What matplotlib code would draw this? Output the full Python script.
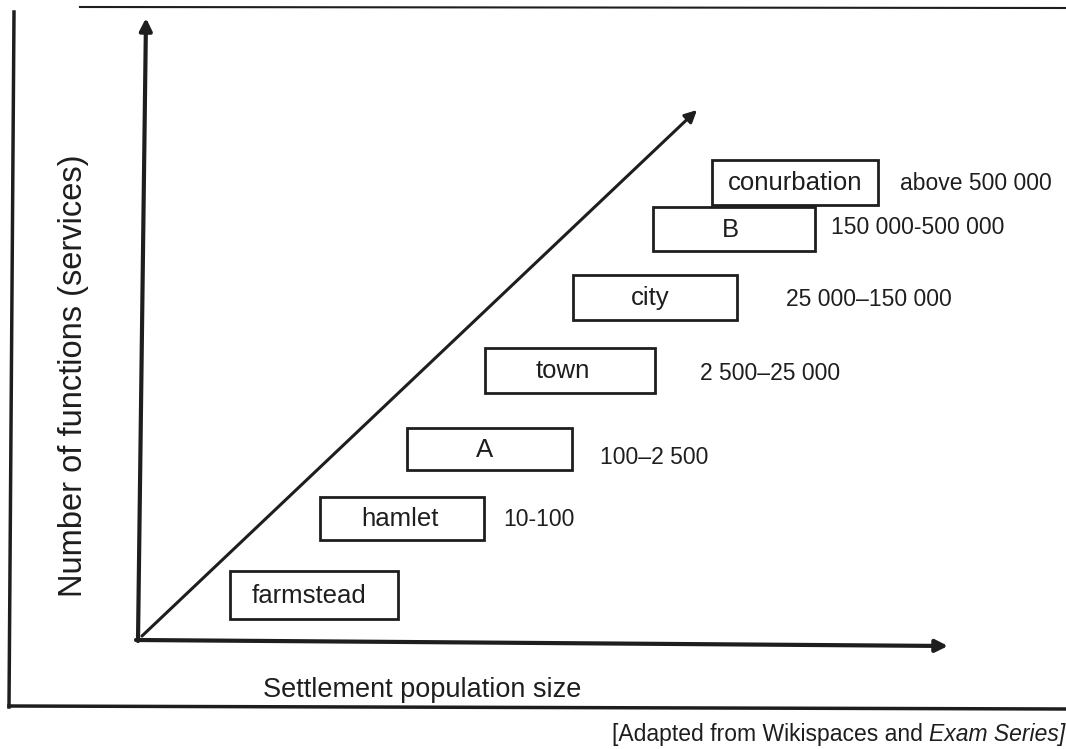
import matplotlib
matplotlib.use('Agg')
import matplotlib.pyplot as plt
from matplotlib.patches import Rectangle

plt.rcParams['font.family'] = ['Liberation Sans', 'DejaVu Sans']

# settlement hierarchy, smallest to largest
categories = ['farmstead', 'hamlet', 'A', 'town', 'city', 'B', 'conurbation']
pop_ranges = ['', '10-100', '100\u20132 500', '2 500\u201325 000',
              '25 000\u2013150 000', '150 000-500 000', 'above 500 000']

# box extents in the diagram (pixel-like units, y grows downwards)
box_x0 = [230, 320, 407, 485, 573, 653, 712]
box_x1 = [398, 484, 572, 655, 737, 815, 878]
box_y0 = [571, 497, 428, 348, 275, 207, 160]
box_y1 = [619, 540, 470, 393, 320, 251, 205]
label_x = [309, 400, 485, 563, 650, 730, 795]
range_x = [0, 503, 600, 700, 786, 831, 900]
range_y = [0, 520, 458, 374, 300, 228, 184]

ink = '#1e1e1e'

fig = plt.figure(figsize=(10.66, 7.49), dpi=100)
ax = fig.add_axes([0, 0, 1, 1])
ax.set_xlim(0, 1066)
ax.set_ylim(749, 0)
ax.axis('off')

# outer frame of the scanned figure
ax.plot([14, 9], [12, 707], color=ink, lw=2.5)
ax.plot([9, 1066], [706, 709], color=ink, lw=2.5)
ax.plot([80, 1066], [7, 8], color=ink, lw=1.5)

# axes arrows
arrow = dict(arrowstyle='-|>', lw=3, color=ink, mutation_scale=18, shrinkA=0, shrinkB=0)
ax.annotate('', xy=(146, 18), xytext=(138, 641), arrowprops=arrow)
ax.annotate('', xy=(948, 646), xytext=(136, 640), arrowprops=arrow)
diag = dict(arrowstyle='-|>', lw=2.2, color=ink, mutation_scale=18, shrinkA=0, shrinkB=0)
ax.annotate('', xy=(697, 110), xytext=(142, 636), arrowprops=diag)

for i, name in enumerate(categories):
    ax.add_patch(Rectangle((box_x0[i], box_y0[i]), box_x1[i] - box_x0[i],
                           box_y1[i] - box_y0[i], fill=False, ec=ink, lw=2))
    yc = (box_y0[i] + box_y1[i]) / 2 + 1
    ax.text(label_x[i], yc, name, ha='center', va='center', fontsize=18.5, color=ink)
    if pop_ranges[i]:
        ax.text(range_x[i], range_y[i], pop_ranges[i], ha='left', va='center',
                fontsize=16.5, color=ink)

ax.text(74, 376, 'Number of functions (services)', rotation=90, ha='center',
        va='center', fontsize=23.5, color=ink)
ax.text(422, 690, 'Settlement population size', ha='center', va='center',
        fontsize=19.5, color=ink)

src = ax.text(612, 735, '[Adapted from Wikispaces and', ha='left', va='center',
              fontsize=16.5, color=ink)
fig.canvas.draw()
bb = src.get_window_extent().transformed(ax.transData.inverted())
ax.text(bb.x1 + 6, 735, 'Exam Series]', ha='left', va='center', fontsize=16.5,
        style='italic', color=ink)

fig.savefig('out.png', dpi=100)
